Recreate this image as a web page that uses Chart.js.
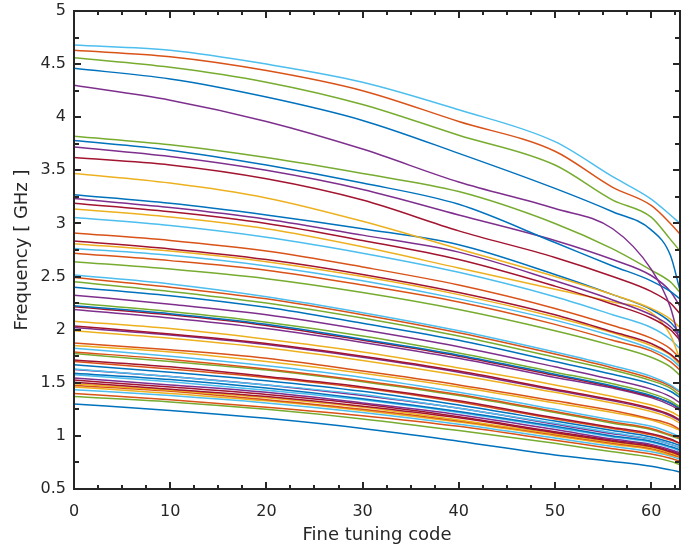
<!DOCTYPE html>
<html>
<head>
<meta charset="utf-8">
<script src="https://cdn.jsdelivr.net/npm/chart.js@4.4.1/dist/chart.umd.min.js"></script>
<style>
  html, body { margin: 0; padding: 0; background: #fff; }
  #wrap { width: 694px; height: 546px; }
</style>
</head>
<body>
<div id="wrap"><canvas id="chartjs-0" width="694" height="546"></canvas></div>
<script>
var codes = [0, 10, 20, 30, 40, 50, 56, 60, 62, 63];
var xTicks = [0, 10, 20, 30, 40, 50, 60];
var yTicks = [0.5, 1, 1.5, 2, 2.5, 3, 3.5, 4, 4.5, 5];

// frequency [GHz] per coarse setting, top to bottom at code 0
var f01 = [4.68, 4.63, 4.50, 4.33, 4.07, 3.77, 3.44, 3.23, 3.08, 3.00];
var f02 = [4.63, 4.57, 4.44, 4.25, 3.96, 3.68, 3.34, 3.17, 3.00, 2.90];
var f03 = [4.56, 4.47, 4.33, 4.12, 3.83, 3.55, 3.22, 3.06, 2.85, 2.74];
var f04 = [4.46, 4.36, 4.19, 3.97, 3.66, 3.33, 3.11, 2.94, 2.70, 2.37];
var f05 = [4.30, 4.16, 3.96, 3.70, 3.39, 3.14, 2.95, 2.57, 2.21, 1.87];
var f06 = [3.82, 3.74, 3.62, 3.47, 3.30, 3.00, 2.76, 2.56, 2.45, 2.35];
var f07 = [3.78, 3.69, 3.55, 3.38, 3.18, 2.82, 2.60, 2.46, 2.36, 2.29];
var f08 = [3.72, 3.63, 3.50, 3.32, 3.08, 2.84, 2.66, 2.51, 2.36, 2.22];
var f09 = [3.62, 3.55, 3.42, 3.22, 2.93, 2.68, 2.50, 2.36, 2.25, 2.15];
var f10 = [3.47, 3.38, 3.24, 3.02, 2.76, 2.50, 2.33, 2.20, 2.10, 2.02];
var f11 = [3.27, 3.19, 3.08, 2.95, 2.80, 2.52, 2.33, 2.19, 2.07, 1.96];
var f12 = [3.235, 3.15, 3.04, 2.89, 2.73, 2.46, 2.28, 2.14, 2.03, 1.93];
var f13 = [3.19, 3.11, 3.00, 2.84, 2.66, 2.41, 2.24, 2.11, 2.00, 1.90];
var f14 = [3.135, 3.06, 2.95, 2.78, 2.58, 2.38, 2.26, 2.16, 1.95, 1.72];
var f15 = [3.055, 2.98, 2.87, 2.72, 2.54, 2.31, 2.14, 2.02, 1.91, 1.82];
var f16 = [2.91, 2.84, 2.74, 2.59, 2.42, 2.20, 2.04, 1.92, 1.82, 1.73];
var f17 = [2.835, 2.76, 2.66, 2.52, 2.35, 2.14, 1.98, 1.87, 1.77, 1.69];
var f18 = [2.81, 2.74, 2.64, 2.50, 2.33, 2.12, 1.97, 1.85, 1.76, 1.67];
var f19 = [2.765, 2.70, 2.60, 2.46, 2.29, 2.09, 1.94, 1.82, 1.73, 1.65];
var f20 = [2.72, 2.65, 2.56, 2.42, 2.26, 2.05, 1.90, 1.80, 1.70, 1.62];
var f21 = [2.64, 2.57, 2.48, 2.35, 2.19, 1.99, 1.85, 1.74, 1.65, 1.57];
var f22 = [2.515, 2.43, 2.31, 2.16, 1.99, 1.79, 1.66, 1.56, 1.48, 1.42];
var f23 = [2.49, 2.40, 2.29, 2.14, 1.97, 1.77, 1.64, 1.54, 1.47, 1.41];
var f24 = [2.45, 2.36, 2.25, 2.11, 1.94, 1.74, 1.62, 1.52, 1.45, 1.38];
var f25 = [2.40, 2.32, 2.21, 2.06, 1.90, 1.70, 1.58, 1.49, 1.42, 1.36];
var f26 = [2.325, 2.24, 2.14, 2.00, 1.84, 1.65, 1.53, 1.44, 1.37, 1.31];
var f27 = [2.25, 2.17, 2.07, 1.94, 1.78, 1.60, 1.49, 1.40, 1.33, 1.27];
var f28 = [2.225, 2.15, 2.05, 1.91, 1.76, 1.58, 1.47, 1.38, 1.31, 1.26];
var f29 = [2.215, 2.14, 2.04, 1.90, 1.75, 1.57, 1.46, 1.37, 1.31, 1.25];
var f30 = [2.19, 2.11, 2.01, 1.88, 1.73, 1.55, 1.45, 1.36, 1.29, 1.24];
var f31 = [2.08, 2.01, 1.91, 1.79, 1.64, 1.48, 1.37, 1.29, 1.23, 1.18];
var f32 = [2.035, 1.96, 1.87, 1.75, 1.61, 1.44, 1.34, 1.26, 1.20, 1.15];
var f33 = [2.02, 1.95, 1.86, 1.74, 1.60, 1.43, 1.33, 1.25, 1.19, 1.14];
var f34 = [1.99, 1.92, 1.83, 1.71, 1.57, 1.41, 1.31, 1.23, 1.17, 1.12];
var f35 = [1.875, 1.81, 1.73, 1.61, 1.48, 1.33, 1.24, 1.16, 1.11, 1.06];
var f36 = [1.85, 1.79, 1.70, 1.59, 1.46, 1.31, 1.22, 1.15, 1.09, 1.05];
var f37 = [1.825, 1.75, 1.66, 1.55, 1.41, 1.25, 1.15, 1.09, 1.03, 0.99];
var f38 = [1.79, 1.72, 1.63, 1.52, 1.39, 1.23, 1.13, 1.07, 1.01, 0.98];
var f39 = [1.775, 1.70, 1.62, 1.51, 1.38, 1.22, 1.12, 1.06, 1.00, 0.97];
var f40 = [1.715, 1.65, 1.56, 1.46, 1.33, 1.17, 1.08, 1.02, 0.97, 0.93];
var f41 = [1.70, 1.63, 1.55, 1.45, 1.32, 1.16, 1.07, 1.01, 0.96, 0.93];
var f42 = [1.67, 1.60, 1.52, 1.42, 1.29, 1.14, 1.05, 0.99, 0.94, 0.91];
var f43 = [1.63, 1.56, 1.48, 1.39, 1.26, 1.12, 1.03, 0.97, 0.92, 0.89];
var f44 = [1.625, 1.56, 1.48, 1.38, 1.26, 1.11, 1.02, 0.97, 0.92, 0.89];
var f45 = [1.59, 1.53, 1.45, 1.35, 1.23, 1.09, 1.00, 0.95, 0.90, 0.87];
var f46 = [1.575, 1.51, 1.43, 1.34, 1.22, 1.08, 0.99, 0.94, 0.89, 0.86];
var f47 = [1.545, 1.48, 1.41, 1.31, 1.20, 1.06, 0.97, 0.92, 0.87, 0.84];
var f48 = [1.525, 1.46, 1.39, 1.30, 1.18, 1.04, 0.96, 0.91, 0.86, 0.83];
var f49 = [1.505, 1.44, 1.37, 1.28, 1.17, 1.03, 0.95, 0.90, 0.85, 0.82];
var f50 = [1.49, 1.43, 1.36, 1.27, 1.15, 1.02, 0.94, 0.89, 0.84, 0.81];
var f51 = [1.475, 1.42, 1.34, 1.25, 1.14, 1.01, 0.93, 0.88, 0.83, 0.80];
var f52 = [1.46, 1.40, 1.33, 1.24, 1.13, 1.00, 0.92, 0.87, 0.82, 0.80];
var f53 = [1.435, 1.38, 1.31, 1.22, 1.11, 0.98, 0.90, 0.85, 0.81, 0.78];
var f54 = [1.40, 1.34, 1.27, 1.19, 1.09, 0.96, 0.88, 0.83, 0.79, 0.76];
var f55 = [1.37, 1.32, 1.25, 1.16, 1.05, 0.93, 0.85, 0.80, 0.76, 0.73];
var f56 = [1.30, 1.24, 1.165, 1.07, 0.95, 0.82, 0.76, 0.715, 0.68, 0.66];

var curves = [f01, f02, f03, f04, f05, f06, f07, f08, f09, f10, f11, f12, f13, f14,
  f15, f16, f17, f18, f19, f20, f21, f22, f23, f24, f25, f26, f27, f28, f29, f30,
  f31, f32, f33, f34, f35, f36, f37, f38, f39, f40, f41, f42, f43, f44, f45, f46,
  f47, f48, f49, f50, f51, f52, f53, f54, f55, f56];

// MATLAB default colour order
var palette = { b: "#0072BD", o: "#D95319", y: "#EDB120", p: "#7E2F8E", g: "#77AC30", c: "#4DBEEE", r: "#A2142F" };
var curveColors = ["c", "o", "g", "b", "p", "g", "b", "p", "r", "y", "b", "p", "r", "y",
  "c", "o", "r", "y", "c", "o", "g", "c", "o", "g", "b", "p", "g", "b", "r", "p",
  "y", "r", "p", "y", "o", "y", "c", "o", "g", "r", "o", "b", "c", "p", "b", "c",
  "p", "r", "r", "y", "o", "y", "c", "o", "g", "b"];

var TEXT = "#262626";
var FONT = "'DejaVu Sans', sans-serif";

var datasets = [];
for (var i = 0; i < curves.length; i++) {
  var pts = [];
  for (var j = 0; j < codes.length; j++) {
    pts.push({ x: codes[j], y: curves[i][j] });
  }
  datasets.push({
    data: pts,
    borderColor: palette[curveColors[i]],
    borderWidth: 1.5,
    pointRadius: 0,
    fill: false,
    cubicInterpolationMode: "monotone"
  });
}

/* box round the axes with inward ticks, like matlab "box on" */
var axisBox = {
  id: "axisBox",
  afterDatasetsDraw: function (chart) {
    var ctx = chart.ctx, a = chart.chartArea;
    var xs = chart.scales.x, ys = chart.scales.y;
    ctx.save();
    ctx.strokeStyle = TEXT;
    ctx.lineWidth = 2;
    ctx.beginPath();
    for (var v = 0; v <= 63; v += 2.5) {
      var px = Math.round(xs.getPixelForValue(v));
      var len = (v % 10 === 0) ? 7 : 4;
      ctx.moveTo(px, a.bottom); ctx.lineTo(px, a.bottom - len);
      ctx.moveTo(px, a.top); ctx.lineTo(px, a.top + len);
    }
    for (var w = 0.5; w <= 5; w += 0.25) {
      var py = Math.round(ys.getPixelForValue(w));
      var l2 = (Math.abs(w * 2 - Math.round(w * 2)) < 1e-6) ? 7 : 5;
      ctx.moveTo(a.left, py); ctx.lineTo(a.left + l2, py);
      ctx.moveTo(a.right, py); ctx.lineTo(a.right - l2, py);
    }
    ctx.stroke();
    ctx.strokeRect(a.left, a.top, a.right - a.left, a.bottom - a.top);
    ctx.restore();
  }
};

var ctx0 = document.getElementById("chartjs-0");
var myChart = new Chart(ctx0, {
  type: "line",
  data: { datasets: datasets },
  plugins: [axisBox],
  options: {
    responsive: false,
    animation: false,
    devicePixelRatio: 1,
    layout: { padding: { top: 11, right: 14, left: 0, bottom: 0 } },
    plugins: { legend: { display: false }, tooltip: { enabled: false } },
    scales: {
      x: {
        type: "linear",
        min: 0,
        max: 63,
        grid: { display: false, drawTicks: false },
        border: { display: false },
        afterBuildTicks: function (s) { s.ticks = xTicks.map(function (v) { return { value: v }; }); },
        afterFit: function (s) { s.height = 57; s.paddingLeft = 0; s.paddingRight = 0; },
        ticks: {
          color: TEXT,
          padding: 13,
          maxRotation: 0,
          font: { family: FONT, size: 16 },
          callback: function (v) { return String(v); }
        },
        title: {
          display: true,
          text: "Fine tuning code",
          color: TEXT,
          font: { family: FONT, size: 18 },
          padding: { top: 0, bottom: 0 }
        }
      },
      y: {
        type: "linear",
        min: 0.5,
        max: 5,
        grid: { display: false, drawTicks: false },
        border: { display: false },
        afterBuildTicks: function (s) { s.ticks = yTicks.map(function (v) { return { value: v }; }); },
        afterFit: function (s) { s.width = 74; s.paddingTop = 0; s.paddingBottom = 0; },
        ticks: {
          color: TEXT,
          padding: 8,
          font: { family: FONT, size: 16 },
          callback: function (v) { return String(v); }
        },
        title: {
          display: true,
          text: "Frequency [ GHz ]",
          color: TEXT,
          font: { family: FONT, size: 18 },
          padding: { top: 12, bottom: 0 }
        }
      }
    }
  }
});
</script>
</body>
</html>
